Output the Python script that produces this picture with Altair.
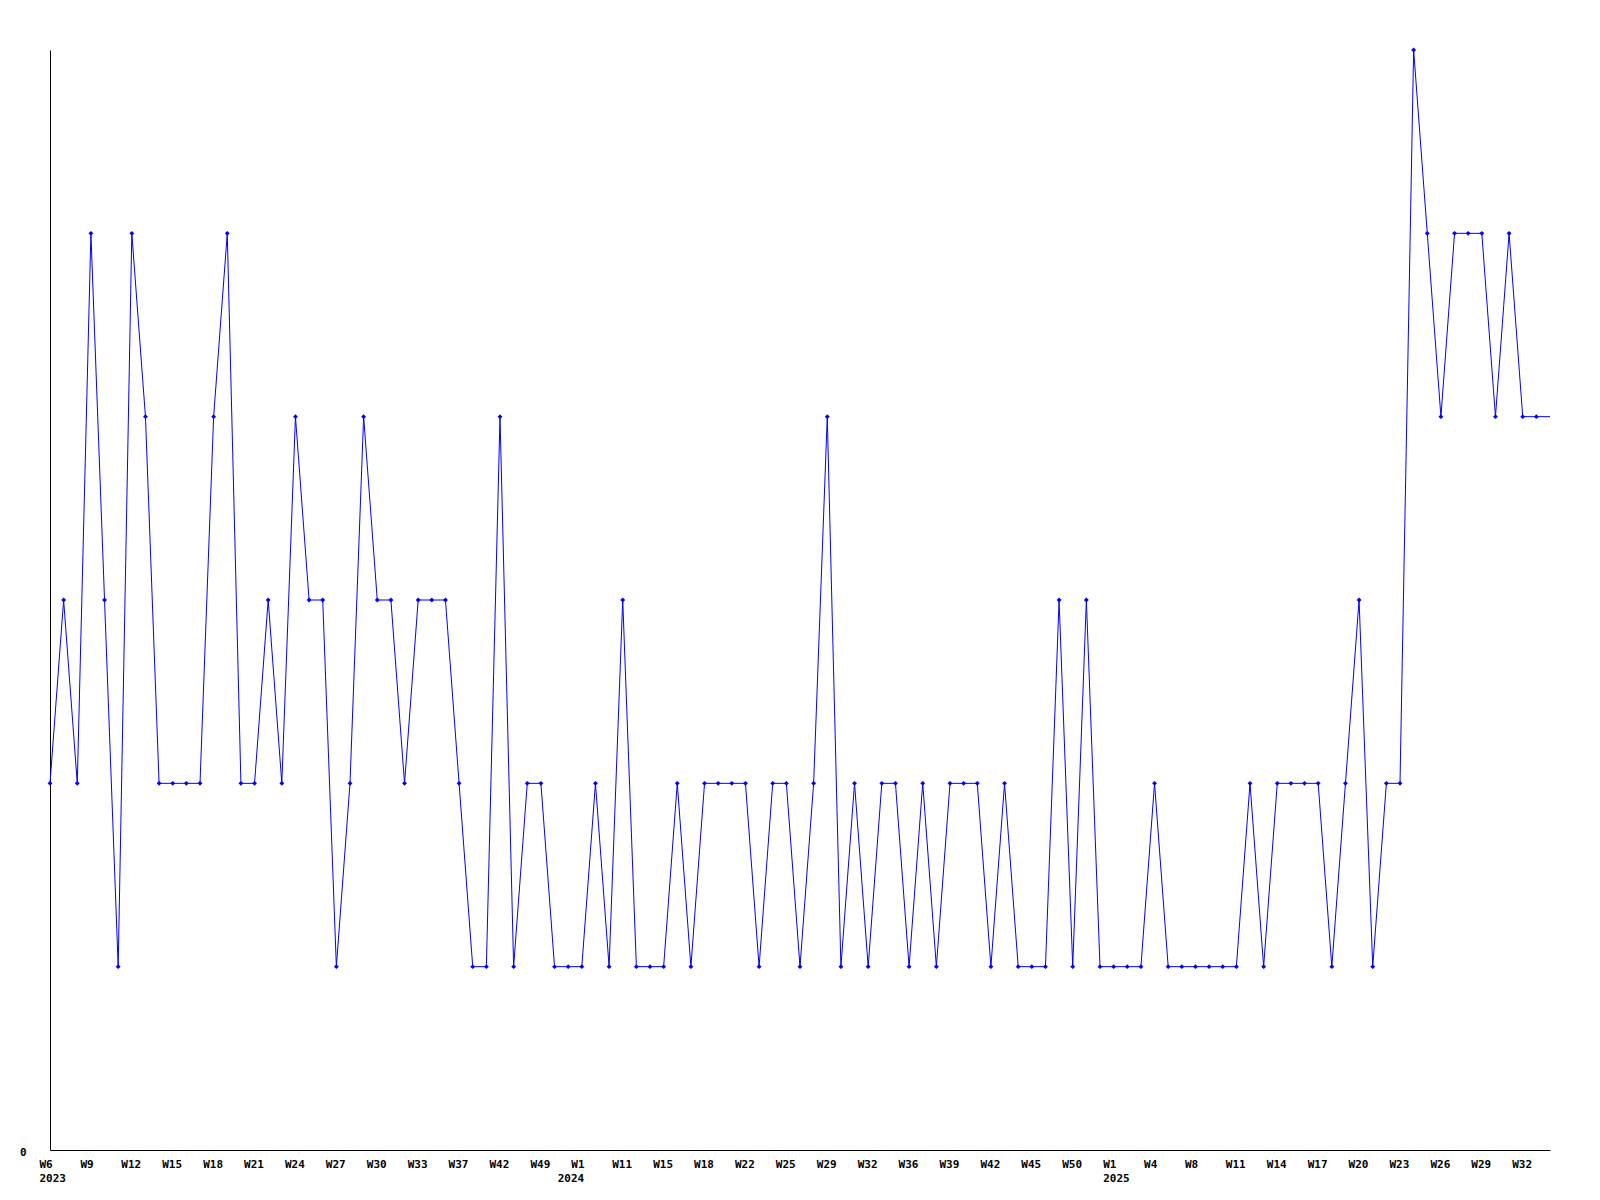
import altair as alt
import pandas as pd

# Series values, one per sampled point (the last one is drawn as line only)
values = [
    2, 3, 2, 5, 3, 1, 5, 4, 2, 2,
    2, 2, 4, 5, 2, 2, 3, 2, 4, 3,
    3, 1, 2, 4, 3, 3, 2, 3, 3, 3,
    2, 1, 1, 4, 1, 2, 2, 1, 1, 1,
    2, 1, 3, 1, 1, 1, 2, 1, 2, 2,
    2, 2, 1, 2, 2, 1, 2, 4, 1, 2,
    1, 2, 2, 1, 2, 1, 2, 2, 2, 1,
    2, 1, 1, 1, 3, 1, 3, 1, 1, 1,
    1, 2, 1, 1, 1, 1, 1, 1, 2, 1,
    2, 2, 2, 2, 1, 2, 3, 1, 2, 2,
    6, 5, 4, 5, 5, 5, 4, 5, 4, 4,
    4,
]

# Week tick labels, one every 3 points
week_labels = [
    "W6", "W9", "W12", "W15", "W18", "W21", "W24", "W27", "W30", "W33",
    "W37", "W42", "W49",
    "W1", "W11", "W15", "W18", "W22", "W25", "W29", "W32", "W36", "W39",
    "W42", "W45", "W50",
    "W1", "W4", "W8", "W11", "W14", "W17", "W20", "W23", "W26", "W29", "W32",
]
week_step = 3

# Year labels and the point index where each year starts
year_labels = ["2023", "2024", "2025"]
year_index = [0, 38, 78]

df = pd.DataFrame({"i": list(range(len(values))), "v": values})

x_domain = [0, len(values) - 1]
week_ticks = [k * week_step for k in range(len(week_labels))]
week_expr = "[" + ",".join(f"'{w}'" for w in week_labels) + f"][round(datum.value/{week_step})]"
year_expr = " : ".join(
    f"datum.value == {p} ? '{y}'" for p, y in zip(year_index, year_labels)
) + " : ''"

FONT = "DejaVu Sans Mono"
BLUE = "#0000ff"

x_scale = alt.Scale(domain=x_domain, nice=False, zero=False)
y_enc = alt.Y(
    "v:Q",
    scale=alt.Scale(domain=[0, 6], nice=False, zero=True),
    axis=alt.Axis(
        values=[0], title=None, ticks=False, tickSize=0, grid=False,
        domain=True, domainColor="black", labelPadding=24,
        labelBaseline="middle", labelAlign="right", labelOffset=2,
    ),
)

base = alt.Chart(df)

line = base.mark_line(color=BLUE, strokeWidth=1).encode(
    x=alt.X(
        "i:Q", scale=x_scale,
        axis=alt.Axis(
            values=week_ticks, labelExpr=week_expr, title=None,
            ticks=False, tickSize=0, grid=False, domain=True, domainColor="black",
            labelAlign="left", labelOffset=-11, labelPadding=8,
            labelBaseline="top", labelFlush=False, labelOverlap=False,
            labelBound=False, orient="bottom",
        ),
    ),
    y=y_enc,
)

points = base.transform_filter(alt.datum.i < len(values) - 1).mark_point(
    shape="diamond", filled=True, size=24, color=BLUE, opacity=1
).encode(
    x=alt.X(
        "i:Q", scale=x_scale,
        axis=alt.Axis(
            values=year_index, labelExpr=year_expr, title=None,
            ticks=False, tickSize=0, grid=False, domain=False,
            labelAlign="left", labelOffset=-11, labelPadding=22,
            labelBaseline="top", labelFlush=False, labelOverlap=False,
            labelBound=False, orient="bottom",
        ),
    ),
    y=y_enc,
)

chart = (
    alt.layer(line, points)
    .resolve_scale(x="independent")
    .properties(
        width=1500,
        height=1100,
        autosize=alt.AutoSizeParams(type="none"),
        padding={"left": 42, "top": 42, "right": 42, "bottom": 42},
    )
    .configure_view(stroke=None)
    .configure_axis(
        labelFont=FONT, labelFontSize=11, labelFontWeight="bold",
        labelColor="black", domainWidth=1,
    )
)

chart.save("out.html", embed_options={"renderer": "svg", "actions": False})
